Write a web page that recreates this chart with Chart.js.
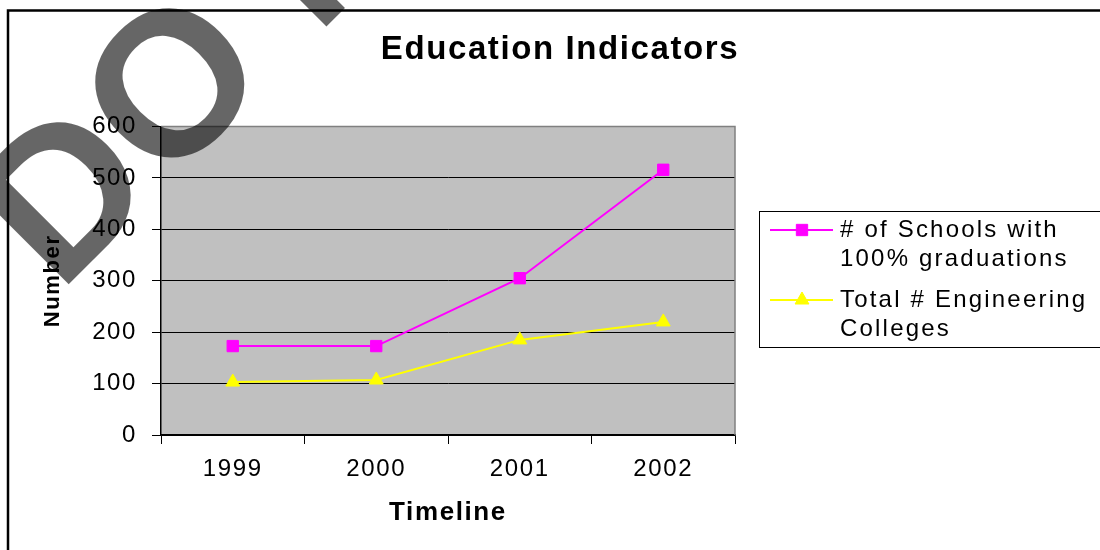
<!DOCTYPE html>
<html>
<head>
<meta charset="utf-8">
<title>Education Indicators</title>
<script src="https://cdn.jsdelivr.net/npm/chart.js@4.4.1/dist/chart.umd.min.js"></script>
<style>
  html, body { margin: 0; padding: 0; background: #ffffff; }
  #wrap { width: 1100px; height: 550px; position: relative; }
</style>
</head>
<body>
<div id="wrap"><canvas id="eduChart"></canvas></div>
<script>
// years on the x axis
const years = ["1999", "2000", "2001", "2002"];

// series values
const schoolsFullGrad = [173, 173, 305, 516];
const engineeringColleges = [103, 107, 185, 220];

// legend text, already broken into lines
const schoolsLabel = ["# of Schools with", "100% graduations"];
const collegesLabel = ["Total # Engineering", "Colleges"];

// y axis range
const yMin = 0;
const yMax = 600;
const yStep = 100;

const fontFamily = "'Liberation Sans', Arial, sans-serif";
const textSpacing = "1.6px";

Chart.defaults.font.family = fontFamily;
Chart.defaults.color = "#000000";

// slightly wider lettering for every text the chart measures and draws
const wideText = {
  id: "wideText",
  beforeUpdate(chart) {
    chart.ctx.letterSpacing = textSpacing;
  },
  beforeDraw(chart) {
    chart.ctx.letterSpacing = textSpacing;
  }
};

// grey plot background with a light frame on top and right
const plotBackground = {
  id: "plotBackground",
  beforeDraw(chart) {
    const { ctx, chartArea: a } = chart;
    ctx.save();
    ctx.fillStyle = "#c0c0c0";
    ctx.fillRect(a.left, a.top, a.right - a.left, a.bottom - a.top);
    ctx.restore();
  },
  beforeDatasetsDraw(chart) {
    const { ctx, chartArea: a } = chart;
    ctx.save();
    ctx.strokeStyle = "#808080";
    ctx.lineWidth = 1.5;
    ctx.beginPath();
    ctx.moveTo(a.left, a.top);
    ctx.lineTo(a.right, a.top);
    ctx.lineTo(a.right, a.bottom);
    ctx.stroke();
    ctx.restore();
  }
};

// boxed legend on the right with two-line entries
const boxedLegend = {
  id: "boxedLegend",
  afterDraw(chart) {
    const ctx = chart.ctx;
    const rows = [230, 300];
    ctx.save();
    ctx.strokeStyle = "#000000";
    ctx.lineWidth = 1;
    ctx.strokeRect(759.5, 211.5, 400, 136);

    chart.data.datasets.forEach((ds, i) => {
      const y = rows[i];
      ctx.strokeStyle = ds.borderColor;
      ctx.lineWidth = 2;
      ctx.beginPath();
      ctx.moveTo(770, y);
      ctx.lineTo(833, y);
      ctx.stroke();

      ctx.fillStyle = ds.backgroundColor;
      ctx.strokeStyle = ds.borderColor;
      ctx.lineWidth = 1;
      Chart.helpers.drawPoint(ctx, {
        pointStyle: ds.pointStyle,
        radius: ds.pointRadius,
        borderWidth: 1
      }, 802, y);

      ctx.fillStyle = "#000000";
      ctx.font = "24px " + fontFamily;
      ctx.letterSpacing = "2.2px";
      ctx.textAlign = "left";
      ctx.textBaseline = "middle";
      ds.legendLines.forEach((line, k) => {
        ctx.fillText(line, 840, y + k * 29);
      });
    });
    ctx.restore();
  }
};

// outer frame and the diagonal stamp over the top-left corner
const frameAndStamp = {
  id: "frameAndStamp",
  afterDraw(chart) {
    const ctx = chart.ctx;
    ctx.save();
    ctx.strokeStyle = "#000000";
    ctx.lineWidth = 2.5;
    ctx.strokeRect(8, 10.5, 1200, 600);

    ctx.translate(59, 294);
    ctx.rotate(-Math.PI / 4);
    ctx.fillStyle = "rgba(0, 0, 0, 0.6)";
    ctx.font = "bold 205px " + fontFamily;
    ctx.letterSpacing = "0px";
    ctx.textAlign = "left";
    ctx.textBaseline = "alphabetic";
    ctx.fillText("DO NOT COPY", 0, 0);
    ctx.restore();
  }
};

new Chart(document.getElementById("eduChart"), {
  type: "line",
  data: {
    labels: years,
    datasets: [
      {
        label: schoolsLabel.join(" "),
        legendLines: schoolsLabel,
        data: schoolsFullGrad,
        borderColor: "#ff00ff",
        backgroundColor: "#ff00ff",
        borderWidth: 2,
        pointStyle: "rect",
        pointRadius: 8,
        pointHoverRadius: 8,
        pointBorderWidth: 1,
        tension: 0
      },
      {
        label: collegesLabel.join(" "),
        legendLines: collegesLabel,
        data: engineeringColleges,
        borderColor: "#ffff00",
        backgroundColor: "#ffff00",
        borderWidth: 2,
        pointStyle: "triangle",
        pointRadius: 8,
        pointHoverRadius: 8,
        pointBorderWidth: 1,
        tension: 0
      }
    ]
  },
  options: {
    responsive: true,
    maintainAspectRatio: false,
    animation: false,
    layout: {
      padding: { left: 20, right: 0, top: 10, bottom: 0 }
    },
    plugins: {
      legend: { display: false },
      tooltip: { enabled: false },
      title: {
        display: true,
        text: "Education Indicators",
        color: "#000000",
        font: { size: 33, weight: "bold" },
        padding: { top: 20, bottom: 57 }
      }
    },
    scales: {
      x: {
        offset: true,
        grid: {
          display: true,
          offset: true,
          drawOnChartArea: false,
          tickLength: 9,
          tickColor: "#000000"
        },
        border: { color: "#000000", width: 1.5 },
        ticks: {
          color: "#000000",
          padding: 11,
          font: { size: 24 }
        },
        title: {
          display: true,
          text: "Timeline",
          color: "#000000",
          font: { size: 26, weight: "bold" },
          padding: { top: 0, bottom: 22 }
        },
        afterFit(scale) {
          scale.height = 115;
        }
      },
      y: {
        min: yMin,
        max: yMax,
        ticks: {
          stepSize: yStep,
          color: "#000000",
          padding: 15,
          font: { size: 24 }
        },
        grid: {
          color: ctx => (ctx.tick && ctx.tick.value === yMax ? "#808080" : "#000000"),
          lineWidth: 1,
          tickLength: 9,
          tickColor: "#000000"
        },
        border: { color: "#000000", width: 1.5 },
        title: {
          display: true,
          text: "Number",
          color: "#000000",
          font: { size: 22, weight: "bold" },
          padding: { top: 20, bottom: 0 }
        },
        afterFit(scale) {
          scale.width = 141;
        }
      },
      // empty right-hand axis that keeps room for the legend
      yRoom: {
        position: "right",
        display: true,
        grid: { display: false },
        border: { display: false },
        ticks: { display: false },
        afterFit(scale) {
          scale.width = 365;
        }
      }
    }
  },
  plugins: [wideText, plotBackground, boxedLegend, frameAndStamp]
});
</script>
</body>
</html>
